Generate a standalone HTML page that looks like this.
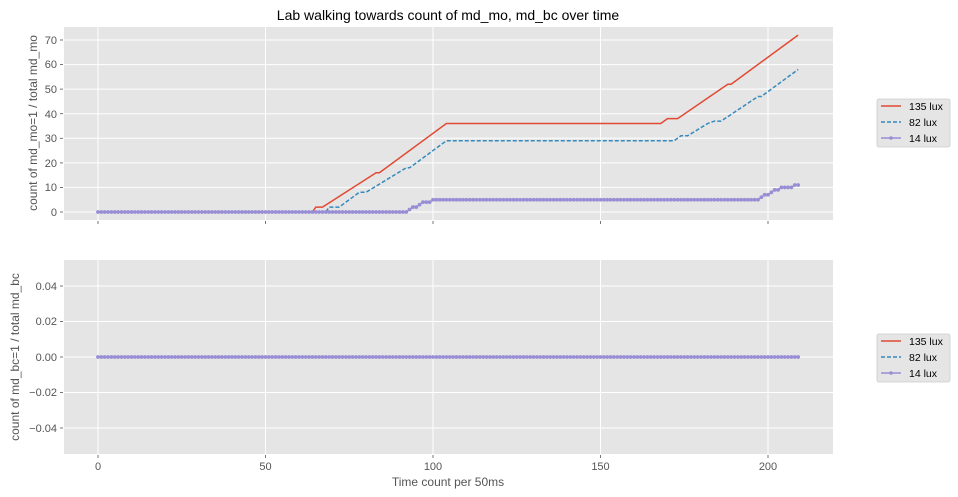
<!DOCTYPE html>
<html><head><meta charset="utf-8"><style>
body{margin:0;background:#fff;}
svg{display:block;font-family:"Liberation Sans","DejaVu Sans",sans-serif;}
.t{font-size:11px;fill:#555;}
.lg{font-size:10.5px;fill:#000;}
</style></head><body>
<svg id="s" width="958" height="497" viewBox="0 0 958 497" xmlns="http://www.w3.org/2000/svg">
<rect width="958" height="497" fill="#fff"/>
<text x="448" y="20" text-anchor="middle" font-size="14" fill="#000">Lab walking towards count of md_mo, md_bc over time</text>
<rect x="64" y="27" width="769" height="193" fill="#e5e5e5"/>
<g stroke="#fff" stroke-width="1">
<line x1="64" x2="833" y1="212" y2="212"/><line x1="64" x2="833" y1="187.4" y2="187.4"/><line x1="64" x2="833" y1="162.9" y2="162.9"/><line x1="64" x2="833" y1="138.3" y2="138.3"/><line x1="64" x2="833" y1="113.7" y2="113.7"/><line x1="64" x2="833" y1="89.1" y2="89.1"/><line x1="64" x2="833" y1="64.6" y2="64.6"/><line x1="64" x2="833" y1="40" y2="40"/>
<line x1="98" x2="98" y1="27" y2="220"/><line x1="265.5" x2="265.5" y1="27" y2="220"/><line x1="433" x2="433" y1="27" y2="220"/><line x1="600.5" x2="600.5" y1="27" y2="220"/><line x1="768" x2="768" y1="27" y2="220"/>
</g>
<g stroke="#555" stroke-width="0.8">
<line x1="60" x2="63" y1="212" y2="212"/><line x1="60" x2="63" y1="187.4" y2="187.4"/><line x1="60" x2="63" y1="162.9" y2="162.9"/><line x1="60" x2="63" y1="138.3" y2="138.3"/><line x1="60" x2="63" y1="113.7" y2="113.7"/><line x1="60" x2="63" y1="89.1" y2="89.1"/><line x1="60" x2="63" y1="64.6" y2="64.6"/><line x1="60" x2="63" y1="40" y2="40"/>
<line x1="98" x2="98" y1="221" y2="224"/><line x1="265.5" x2="265.5" y1="221" y2="224"/><line x1="433" x2="433" y1="221" y2="224"/><line x1="600.5" x2="600.5" y1="221" y2="224"/><line x1="768" x2="768" y1="221" y2="224"/>
<line x1="60" x2="63" y1="286" y2="286"/><line x1="60" x2="63" y1="321.5" y2="321.5"/><line x1="60" x2="63" y1="357" y2="357"/><line x1="60" x2="63" y1="392.5" y2="392.5"/><line x1="60" x2="63" y1="428" y2="428"/>
<line x1="98" x2="98" y1="455" y2="458"/><line x1="265.5" x2="265.5" y1="455" y2="458"/><line x1="433" x2="433" y1="455" y2="458"/><line x1="600.5" x2="600.5" y1="455" y2="458"/><line x1="768" x2="768" y1="455" y2="458"/>
</g>
<g class="t" text-anchor="end">
<text x="57" y="216">0</text><text x="57" y="191">10</text><text x="57" y="167">20</text><text x="57" y="142">30</text><text x="57" y="118">40</text><text x="57" y="93">50</text><text x="57" y="68">60</text><text x="57" y="44">70</text>
</g>
<text transform="translate(37,123) rotate(-90)" text-anchor="middle" font-size="12" fill="#555">count of md_mo=1 / total md_mo</text>
<g id="gtop"></g>
<rect x="64" y="260" width="769" height="194" fill="#e5e5e5"/>
<g stroke="#fff" stroke-width="1">
<line x1="64" x2="833" y1="286" y2="286"/><line x1="64" x2="833" y1="321.5" y2="321.5"/><line x1="64" x2="833" y1="357" y2="357"/><line x1="64" x2="833" y1="392.5" y2="392.5"/><line x1="64" x2="833" y1="428" y2="428"/>
<line x1="98" x2="98" y1="260" y2="454"/><line x1="265.5" x2="265.5" y1="260" y2="454"/><line x1="433" x2="433" y1="260" y2="454"/><line x1="600.5" x2="600.5" y1="260" y2="454"/><line x1="768" x2="768" y1="260" y2="454"/>
</g>
<g class="t" text-anchor="end">
<text x="57" y="290">0.04</text><text x="57" y="325">0.02</text><text x="57" y="361">0.00</text><text x="57" y="396">−0.02</text><text x="57" y="432">−0.04</text>
</g>
<g class="t" text-anchor="middle">
<text x="98" y="470">0</text><text x="265.5" y="470">50</text><text x="433" y="470">100</text><text x="600.5" y="470">150</text><text x="768" y="470">200</text>
</g>
<text x="448" y="486" text-anchor="middle" font-size="12" fill="#555">Time count per 50ms</text>
<text transform="translate(19,357) rotate(-90)" text-anchor="middle" font-size="12" fill="#555">count of md_bc=1 / total md_bc</text>
<g id="gbot"></g>
<g>
<rect x="877" y="99" width="73" height="48" rx="2" fill="#e5e5e5" stroke="#ccc" stroke-width="0.8"/>
<line x1="881" x2="901" y1="106" y2="106" stroke="#e24a33" stroke-width="1.5"/>
<line x1="881" x2="901" y1="122" y2="122" stroke="#348abd" stroke-width="1.5" stroke-dasharray="4,2"/>
<line x1="881" x2="901" y1="138" y2="138" stroke="#988ed5" stroke-width="1.5"/><circle cx="891" cy="138" r="1.8" fill="#988ed5"/>
<text class="lg" x="909" y="110">135 lux</text><text class="lg" x="909" y="126">82 lux</text><text class="lg" x="909" y="142">14 lux</text>
</g>
<g>
<rect x="877" y="334" width="73" height="48" rx="2" fill="#e5e5e5" stroke="#ccc" stroke-width="0.8"/>
<line x1="881" x2="901" y1="341" y2="341" stroke="#e24a33" stroke-width="1.5"/>
<line x1="881" x2="901" y1="357" y2="357" stroke="#348abd" stroke-width="1.5" stroke-dasharray="4,2"/>
<line x1="881" x2="901" y1="373" y2="373" stroke="#988ed5" stroke-width="1.5"/><circle cx="891" cy="373" r="1.8" fill="#988ed5"/>
<text class="lg" x="909" y="345">135 lux</text><text class="lg" x="909" y="361">82 lux</text><text class="lg" x="909" y="377">14 lux</text>
</g>
</svg>
<script>
(function(){
var NS="http://www.w3.org/2000/svg";
function X(t){return 98+t*3.35;}
function Y(v){return 212-v*2.457;}
function pl(g,pts,col,dash){var p=document.createElementNS(NS,"polyline");p.setAttribute("points",pts.map(function(a){return a[0].toFixed(1)+","+a[1].toFixed(1)}).join(" "));p.setAttribute("fill","none");p.setAttribute("stroke",col);p.setAttribute("stroke-width","1.5");if(dash)p.setAttribute("stroke-dasharray",dash);g.appendChild(p);}
function dots(g,pts){pts.forEach(function(a){var c=document.createElementNS(NS,"circle");c.setAttribute("cx",a[0]);c.setAttribute("cy",a[1]);c.setAttribute("r","1.9");c.setAttribute("fill","#988ed5");g.appendChild(c);});}
var gt=document.getElementById("gtop"),gb=document.getElementById("gbot");
var red=[[0,0],[64,0],[65,2],[67,2],[83,16],[84,16],[104,36],[168,36],[170,38],[173,38],[188,52],[189,52],[209,72]];
var blue=[[0,0],[68,0],[69,2],[72,2],[78,8],[80,8],[92,18],[93,18],[104,29],[172,29],[174,31],[176,31],[182,36],[184,37],[186,37],[197,47],[198,47],[209,58]];
pl(gt,red.map(function(a){return[X(a[0]),Y(a[1])]}),"#e24a33");
pl(gt,blue.map(function(a){return[X(a[0]),Y(a[1])]}),"#348abd","4,2");
function pv(t){if(t<=92)return 0;if(t==93)return 1;if(t<=95)return 2;if(t==96)return 3;if(t<=99)return 4;if(t<=197)return 5;if(t==198)return 6;if(t<=200)return 7;if(t==201)return 8;if(t<=203)return 9;if(t<=207)return 10;return 11;}
var pp=[],bp=[];for(var t=0;t<=209;t++){pp.push([X(t),Y(pv(t))]);bp.push([X(t),357]);}
pl(gt,pp,"#988ed5");dots(gt,pp);
pl(gb,bp,"#e24a33");
pl(gb,bp,"#348abd","4,2");
pl(gb,bp,"#988ed5");dots(gb,bp);
})();
</script>
</body></html>
